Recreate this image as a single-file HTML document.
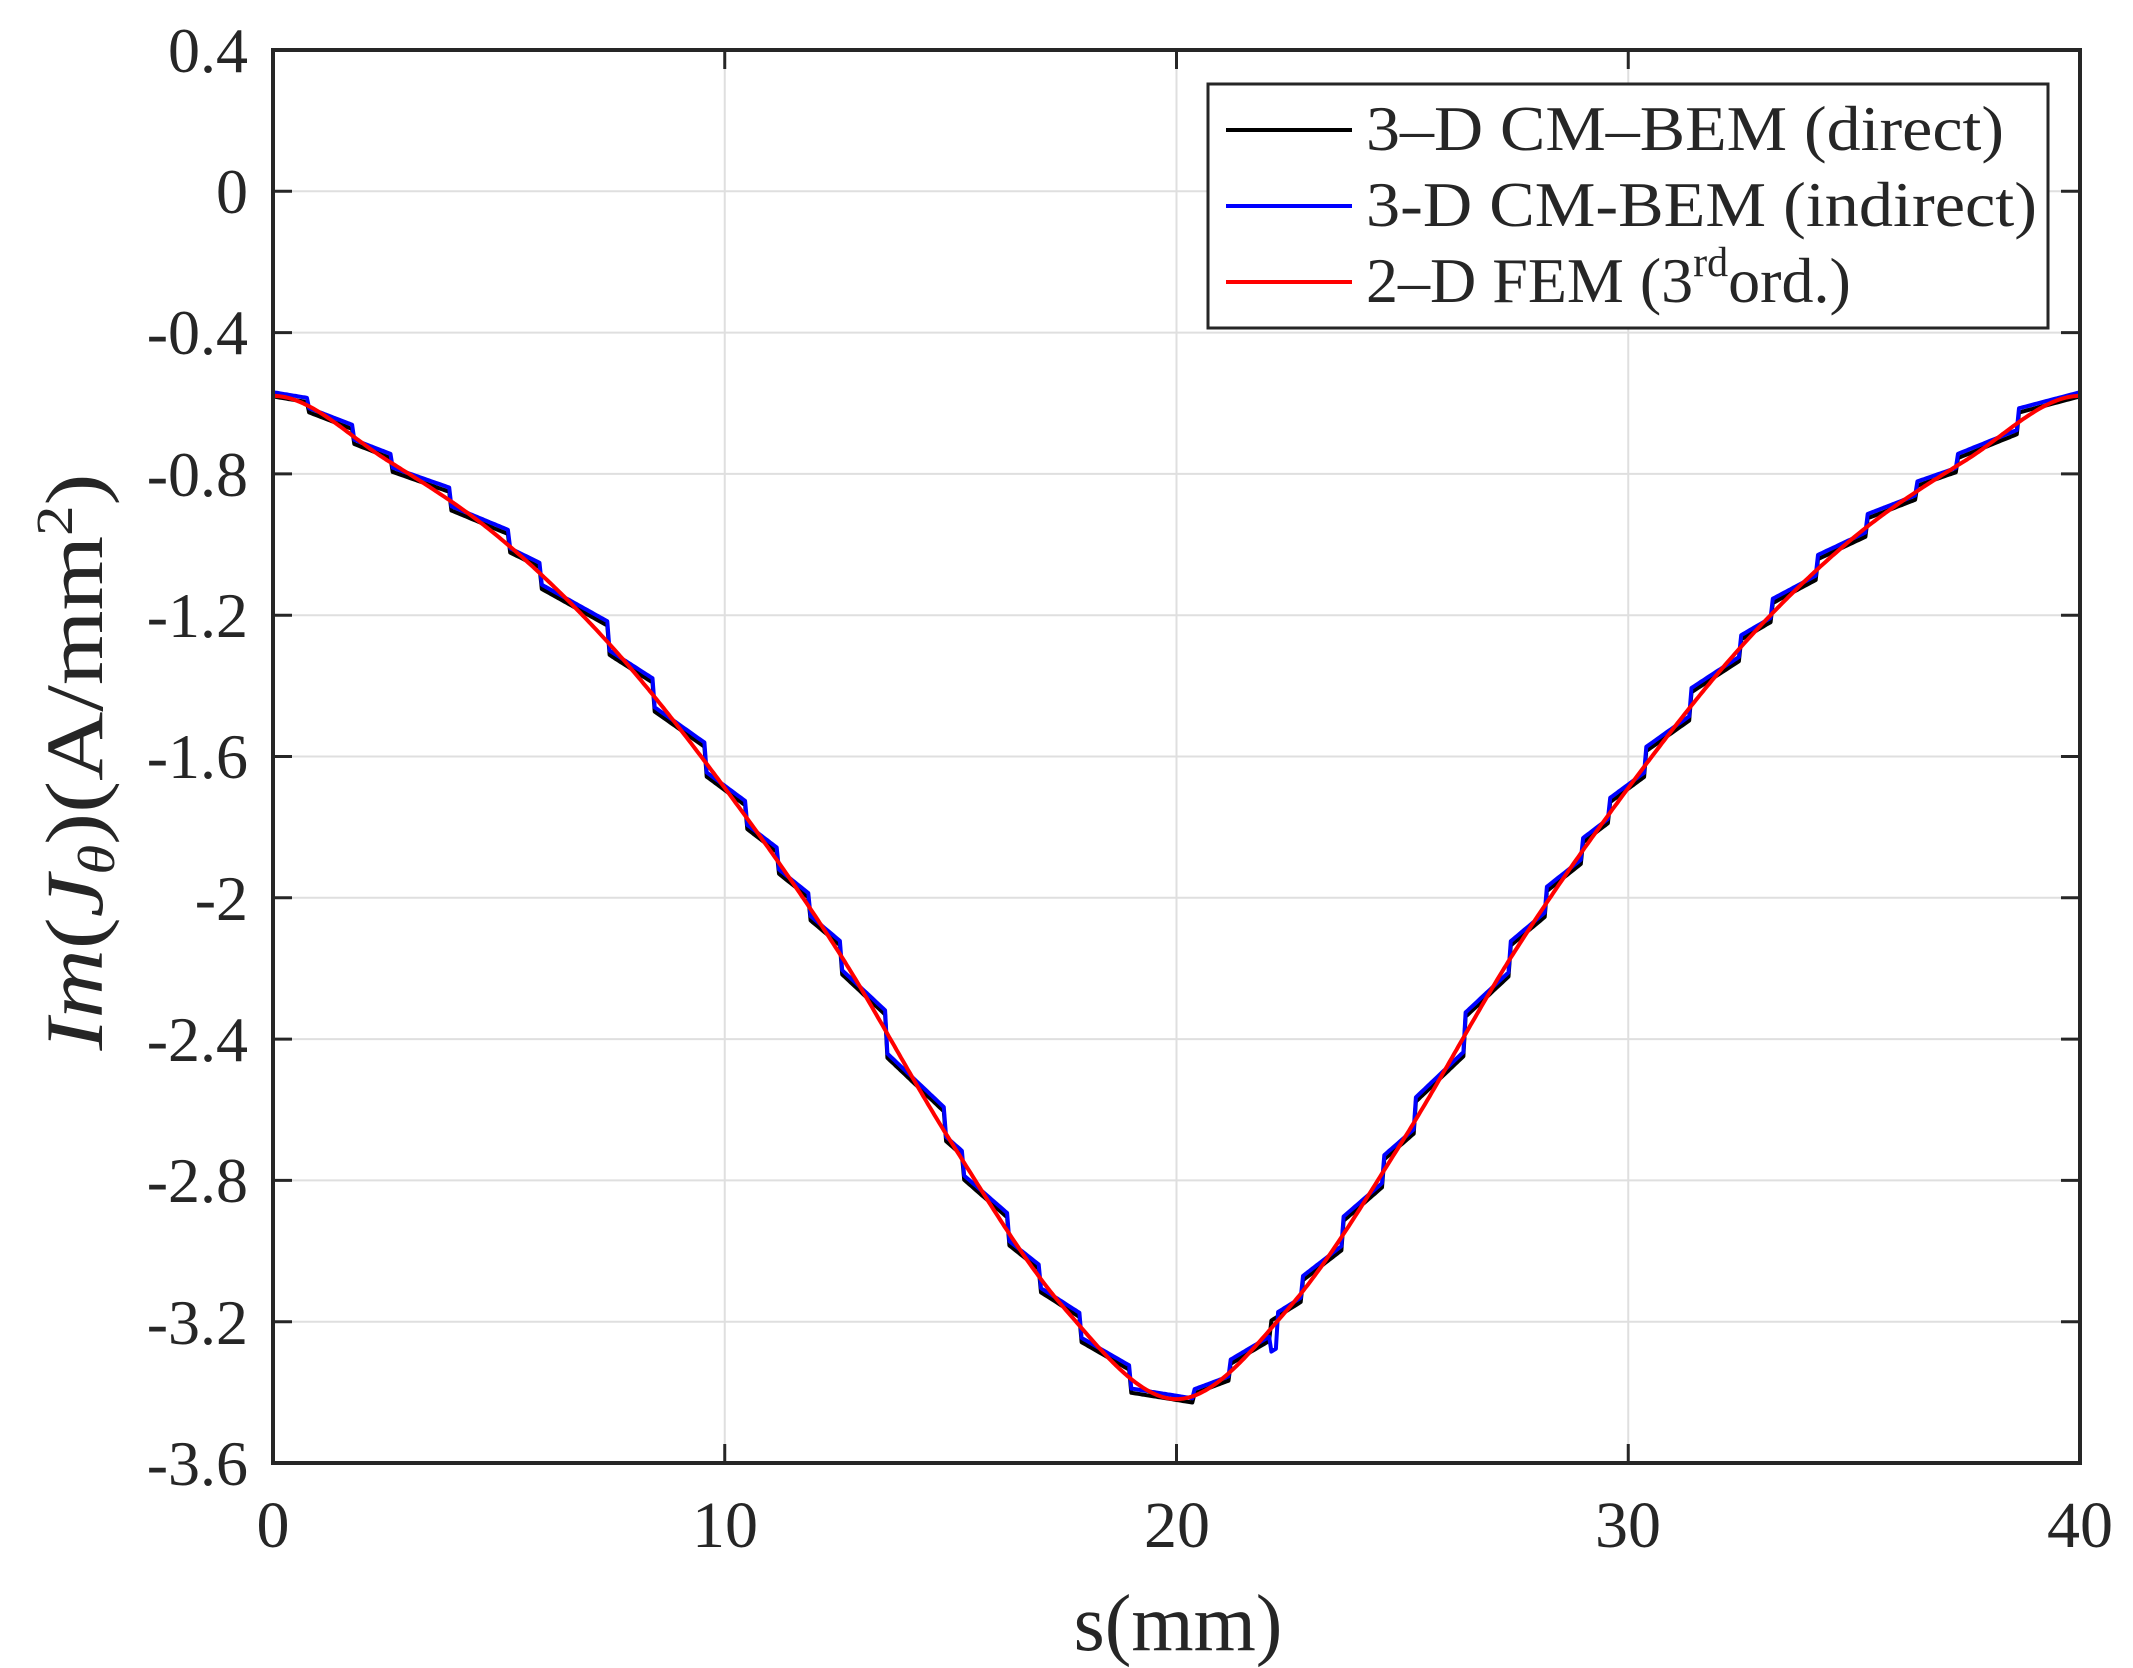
<!DOCTYPE html>
<html><head><meta charset="utf-8"><style>
html,body{margin:0;padding:0;background:#fff;}
svg{display:block;}
text{font-family:"Liberation Serif",serif;fill:#262626;}
</style></head><body>
<svg id="s" width="2133" height="1668" viewBox="0 0 2133 1668" xmlns="http://www.w3.org/2000/svg">
<rect width="2133" height="1668" fill="#fff"/>
<g id="grid" stroke="#dfdfdf" stroke-width="2"></g>
<g id="curves" fill="none" stroke-width="4" stroke-linejoin="round"></g>
<g id="ticks" stroke="#262626" stroke-width="3"></g>
<rect x="273" y="50" width="1807" height="1413" fill="none" stroke="#262626" stroke-width="4"/>
<g font-size="64" text-anchor="end" id="ylab">
<text x="248" y="72">0.4</text>
<text x="248" y="213">0</text>
<text x="248" y="354">-0.4</text>
<text x="248" y="496">-0.8</text>
<text x="248" y="637">-1.2</text>
<text x="248" y="778">-1.6</text>
<text x="248" y="920">-2</text>
<text x="248" y="1061">-2.4</text>
<text x="248" y="1202">-2.8</text>
<text x="248" y="1344">-3.2</text>
<text x="248" y="1485">-3.6</text>
</g>
<g font-size="66" text-anchor="middle">
<text x="273" y="1547">0</text>
<text x="725" y="1547">10</text>
<text x="1177" y="1547">20</text>
<text x="1628" y="1547">30</text>
<text x="2080" y="1547">40</text>
<text x="1178" y="1650" font-size="80">s(mm)</text>
</g>
<text transform="translate(102,762) rotate(-90)" font-size="82" text-anchor="middle" textLength="577" lengthAdjust="spacingAndGlyphs"><tspan font-style="italic">Im</tspan>(<tspan font-style="italic">J</tspan><tspan font-style="italic" font-size="52" dy="12">θ</tspan><tspan dy="-12">)(A/mm</tspan><tspan font-size="52" dy="-30">2</tspan><tspan dy="30">)</tspan></text>
<rect x="1208" y="84" width="840" height="244" fill="#fff" stroke="#262626" stroke-width="3"/>
<line x1="1226" y1="130" x2="1352" y2="130" stroke="#000" stroke-width="4"/>
<line x1="1226" y1="206" x2="1352" y2="206" stroke="#0000ff" stroke-width="4"/>
<line x1="1226" y1="282" x2="1352" y2="282" stroke="#ff0000" stroke-width="4"/>
<g font-size="64" fill="#000">
<text x="1366" y="150" textLength="638" lengthAdjust="spacingAndGlyphs">3–D CM–BEM (direct)</text>
<text x="1366" y="226" textLength="671" lengthAdjust="spacingAndGlyphs">3-D CM-BEM (indirect)</text>
<text x="1366" y="302">2–D FEM (3<tspan font-size="42" dy="-26">rd</tspan><tspan dy="26">ord.)</tspan></text>
</g>
</svg>
<script>
var X=function(s){return 273+s*45.175;};
var Y=function(v){return 191-v*353.25;};
var g=document.getElementById('grid'),t=document.getElementById('ticks'),c=document.getElementById('curves');
var ns='http://www.w3.org/2000/svg';
function ln(p,a,b,d,e){var l=document.createElementNS(ns,'line');l.setAttribute('x1',a);l.setAttribute('y1',b);l.setAttribute('x2',d);l.setAttribute('y2',e);p.appendChild(l);}
for(var i=1;i<4;i++){var x=X(i*10);ln(g,x,50,x,1463);ln(t,x,1463,x,1444);ln(t,x,50,x,69);}
for(var i=0;i<=10;i++){var y=50+i*141.3;if(i>0&&i<10)ln(g,273,y,2080,y);ln(t,273,y,292,y);ln(t,2080,y,2061,y);}
var P=[[0,-0.58],[2.5,-0.76],[5,-0.98],[7.5,-1.29],[10,-1.69],[12.5,-2.15],[15,-2.69],[17.5,-3.16],[20,-3.42],[22.5,-3.16],[25,-2.69],[27.5,-2.15],[30,-1.69],[32.5,-1.29],[35,-0.98],[37.5,-0.76],[40,-0.58]];
function red(s){s=Math.max(0,Math.min(40,s));var i=Math.min(15,Math.floor(s/2.5));var t=(s-P[i][0])/2.5;
var p0=P[Math.max(0,i-1)][1],p1=P[i][1],p2=P[i+1][1],p3=P[Math.min(16,i+2)][1];
if(i==0)p0=p2;if(i==15)p3=p1;
return 0.5*((2*p1)+(-p0+p2)*t+(2*p0-5*p1+4*p2-p3)*t*t+(-p0+3*p1-3*p2+p3)*t*t*t);}
function path(f,col){var d='';for(var s=0;s<=40.001;s+=0.05){d+=(s==0?'M':'L')+X(s).toFixed(1)+','+Y(f(s)).toFixed(1);}
var p=document.createElementNS(ns,'path');p.setAttribute('d',d);p.setAttribute('stroke',col);c.appendChild(p);}
var B=[0,0.8,1.8,2.6,3.9,5.2,5.9,7.4,8.4,9.6,10.5,11.2,11.9,12.6,13.6,14.9,15.3,16.3,17.0,17.9,19.0,20.4,21.2,22.1,22.8,23.7,24.6,25.3,26.4,27.4,28.2,29.0,29.6,30.4,31.4,32.5,33.2,34.2,35.3,36.4,37.3,38.6,40];
function blue(s){for(var i=0;i<B.length-1;i++){if(s<=B[i+1]){var m=(B[i]+B[i+1])/2;var sl=(red(m+0.01)-red(m-0.01))/0.02;return red(m)+sl*(s-m)*0.55+0.01;}}return red(s);}
path(function(s){return blue(s)-0.012;},'#000');
path(function(s){var v=blue(s);if(Math.abs(s-22.15)<0.06)v-=0.1;return v;},'#0000ff');
path(red,'#ff0000');
</script>
</body></html>
